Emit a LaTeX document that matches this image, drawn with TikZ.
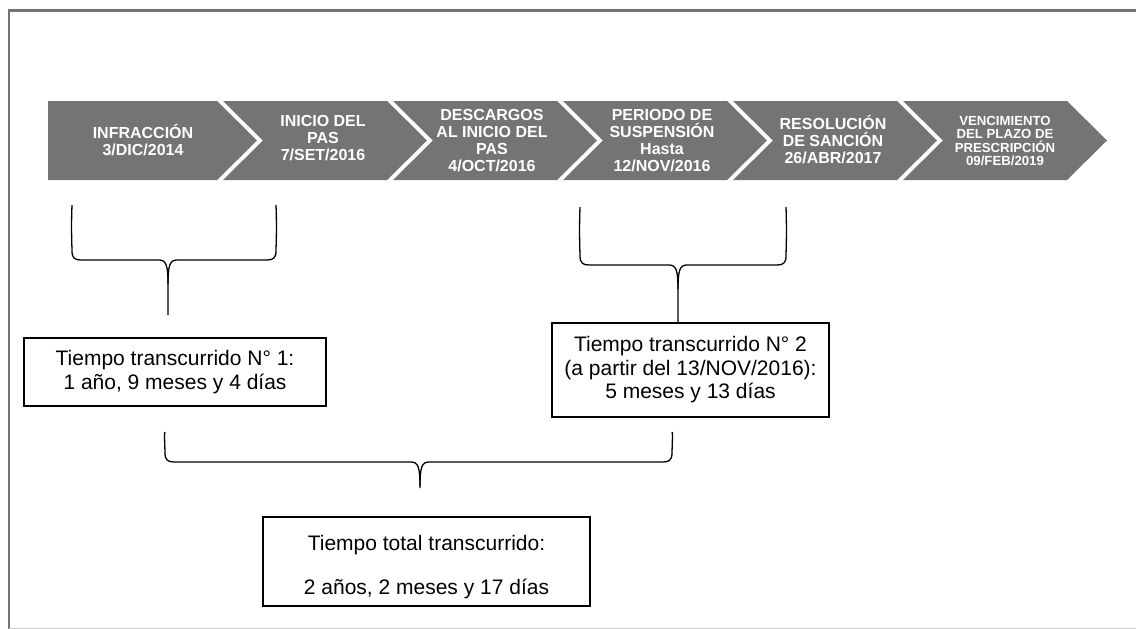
\documentclass[tikz,border=0pt]{standalone}
\usepackage{fontspec}
\setmainfont{Liberation Sans}
\definecolor{chevgray}{RGB}{116,116,116}
\definecolor{framegray}{RGB}{115,115,115}
\tikzset{
  chevfill/.style={fill=chevgray},
  chevtext/.style={text=white, font=\bfseries\fontsize{16}{17}\selectfont, align=center, inner sep=0pt},
  chevtextsmall/.style={text=white, font=\bfseries\fontsize{13.2}{13.5}\selectfont, align=center, inner sep=0pt},
  infobox/.style={draw=black, line width=1.2pt, font=\fontsize{21}{23.5}\selectfont, align=center, inner sep=0pt},
  bracket/.style={draw=black, line width=1.3pt, line join=round}
}
\newcommand{\chevshape}[2]{%
  \fill[chevfill] (#1,101) -- (#2,101) -- (#2+40,140.5) -- (#2,180) -- (#1,180) -- (#1+40,140.5) -- cycle;}
% #1 L, #2 R, #3 top, #4 horizontal, #5 centre x, #6 bottom
\newcommand{\bracketpath}[6]{%
  \draw[bracket] (#1,#3) .. controls (#1-1,#4-30) and (#1,#4-14) .. (#1,#4-9)
     .. controls (#1,#4-2) and (#1+3,#4) .. (#1+9,#4) -- (#5-9,#4)
     .. controls (#5-2,#4) and (#5,#4+5) .. (#5,#4+24) -- (#5,#6);
  \draw[bracket] (#2,#3) .. controls (#2+1,#4-30) and (#2,#4-14) .. (#2,#4-9)
     .. controls (#2,#4-2) and (#2-3,#4) .. (#2-9,#4) -- (#5+9,#4)
     .. controls (#5+2,#4) and (#5,#4+5) .. (#5,#4+24);}
\begin{document}
\begin{tikzpicture}[x=1pt,y=-1pt]
\useasboundingbox (0,0) rectangle (1136,629);
% frame
\draw[framegray, line width=2.5pt] (1136,10.5) -- (9,10.5) -- (9,629);
\draw[gray!40, line width=0.8pt] (9,628.3) -- (1136,628.3);
% chevrons
\fill[chevfill] (48,101) -- (217,101) -- (257,140.5) -- (217,180) -- (48,180) -- cycle;
\chevshape{223}{387}
\chevshape{393}{557}
\chevshape{563}{727}
\chevshape{733}{897}
\chevshape{903}{1067}
\node[chevtext] (c1) at (143,140) {INFRACCIÓN\\3/DIC/2014};
\node[chevtext] (c2) at (323,138) {INICIO DEL\\PAS\\7/SET/2016};
\node[chevtext] (c3) at (492,141) {DESCARGOS\\AL INICIO DEL\\PAS\\4/OCT/2016};
\node[chevtext] (c4) at (662,141) {PERIODO DE\\SUSPENSIÓN\\Hasta\\12/NOV/2016};
\node[chevtext] (c5) at (833,140) {RESOLUCIÓN\\DE SANCIÓN\\26/ABR/2017};
\node[chevtextsmall] (c6) at (1005,141) {VENCIMIENTO\\DEL PLAZO DE\\PRESCRIPCIÓN\\09/FEB/2019};
% boxes
\node[infobox, minimum width=302pt, minimum height=68pt] (b1) at (175,372)
  {Tiempo transcurrido N° 1:\\1 año, 9 meses y 4 días};
\node[infobox, minimum width=277pt, minimum height=94pt] (b2) at (690.5,370)
  {Tiempo transcurrido N° 2\\(a partir del 13/NOV/2016):\\5 meses y 13 días};
\node[infobox, minimum width=327pt, minimum height=89pt] (b3) at (426.5,561.5)
  {\rule{0pt}{26pt}Tiempo total transcurrido:\\[21pt]2 años, 2 meses y 17 días};
% brackets
\bracketpath{72}{276}{205}{260}{168}{315}
\bracketpath{580}{786}{207}{265}{678}{323}
\bracketpath{165}{672}{432}{462}{420}{488}
\end{tikzpicture}
\end{document}
